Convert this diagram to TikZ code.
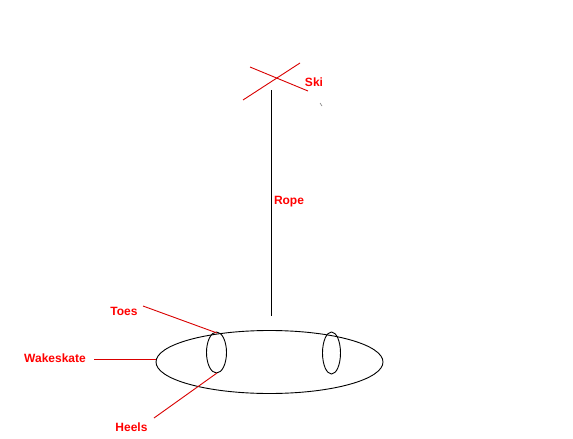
\documentclass[tikz,border=0pt]{standalone}
\usepackage{fontspec}
\setmainfont{Liberation Sans}
\usetikzlibrary{shapes.geometric}
\begin{document}
\begin{tikzpicture}[x=1pt,y=-1pt,
  lbl/.style={text=red,font=\fontsize{12}{13}\selectfont\bfseries,inner sep=0pt},
  redline/.style={draw=red!85!black,line width=0.9pt},
  blk/.style={draw=black,line width=0.9pt}]
\useasboundingbox[fill=white] (0,0) rectangle (573,439);
% ski cross
\coordinate (c1a) at (243,100);
\coordinate (c1b) at (300,63);
\coordinate (c2a) at (250,67);
\coordinate (c2b) at (308,91);
\draw[redline] (c1a) -- (c1b);
\draw[redline] (c2a) -- (c2b);
\node[lbl] (ski) at (314,82) {Ski};
\coordinate (dota) at (320,103);
\coordinate (dotb) at (322,106);
\draw[draw=gray,line width=0.6pt] (dota) -- (dotb);
% rope
\coordinate (ropetop) at (271,90);
\coordinate (ropebot) at (271,316);
\draw[blk] (ropetop) -- (ropebot);
\node[lbl] (rope) at (289,202) {Rope};
% board
\node[blk,ellipse,draw,minimum width=227pt,minimum height=63pt,inner sep=0pt] (board) at (269.5,362) {};
\node[blk,ellipse,draw,minimum width=20pt,minimum height=41pt,inner sep=0pt] (toe) at (216.5,352.5) {};
\node[blk,ellipse,draw,minimum width=18pt,minimum height=42pt,inner sep=0pt] (back) at (331.5,353) {};
% labels
\node[lbl] (toes) at (124,311) {Toes};
\node[lbl] (wake) at (55,358) {Wakeskate};
\node[lbl] (heels) at (131.5,427) {Heels};
\coordinate (toesend) at (143,306);
\coordinate (toestip) at (217,333);
\coordinate (wakeend) at (94,359.5);
\coordinate (heelsend) at (154,418);
\coordinate (heelstip) at (217,373);
\draw[redline] (toesend) -- (toestip);
\draw[redline] (wakeend) -- (board.west |- wakeend);
\draw[redline] (heelsend) -- (heelstip);
\end{tikzpicture}
\end{document}
